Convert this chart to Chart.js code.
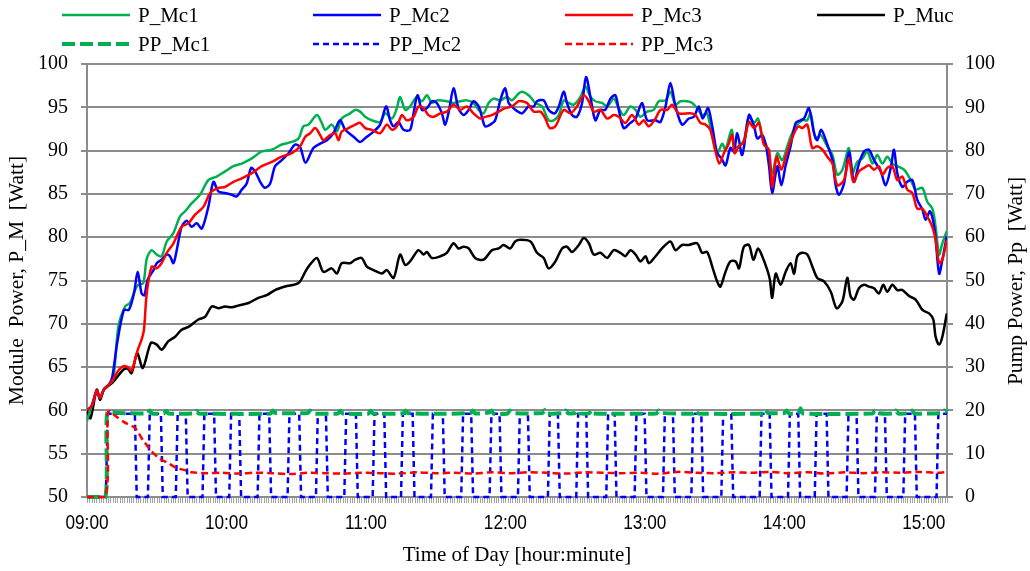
<!DOCTYPE html>
<html>
<head>
<meta charset="utf-8">
<script src="https://cdn.jsdelivr.net/npm/chart.js@4.4.1/dist/chart.umd.min.js"></script>
<style>
  html, body { margin: 0; padding: 0; background: #fff; }
  #wrap { width: 1030px; height: 571px; }
</style>
</head>
<body>
<div id="wrap"><canvas id="pumpChart"></canvas></div>
<script>
// minutes after 09:00 -> values
const hourLabels = ['09:00', '10:00', '11:00', '12:00', '13:00', '14:00', '15:00'];

// module powers, left axis [W]
const pMc1 = [[0,58.8],[2,60.5],[4.2,62.2],[5.6,61.5],[7.3,62.5],[9.5,63.0],[11.3,63.6],[13.5,69.7],[16.4,72.0],[18.5,72.4],[20.5,73.8],[22,74.5],[24.2,74.7],[25.7,77.5],[27.8,78.5],[29.9,78.0],[32.1,77.8],[34.3,79.5],[37.2,80.5],[40,82.4],[42.2,83.0],[45,83.9],[48.6,84.9],[52.2,86.6],[55.8,87.0],[59.4,87.6],[63,88.2],[66.6,88.5],[70.9,89.1],[75.2,89.9],[79.5,90.1],[83.8,90.7],[88.1,91.0],[91,91.4],[93.1,92.8],[95.3,93.0],[98.9,94.1],[101,93.2],[102.5,92.4],[105.3,93.0],[107.5,92.2],[109.6,93.7],[113.2,94.3],[115.4,94.7],[117.5,94.5],[119.7,93.9],[122.5,93.5],[126.1,93.3],[128.3,94.3],[131.2,93.7],[133.3,94.9],[134.7,96.2],[136.9,94.7],[139,95.1],[141.9,96.2],[144.1,95.7],[146.2,96.4],[148.4,95.5],[150.5,95.8],[154.8,95.7],[157.7,95.5],[160.6,95.7],[163.4,95.8],[166.3,95.5],[168.5,94.7],[170.6,94.3],[172.8,95.5],[174.9,96.0],[177.8,95.8],[180.7,96.2],[182.8,95.8],[185.7,96.6],[187.2,96.8],[190,96.4],[192.9,95.5],[195.8,95.1],[198.6,93.5],[200.8,93.5],[203,94.1],[205.1,95.8],[207.3,95.5],[209.4,95.3],[212.3,96.2],[214.4,97.4],[216.6,96.2],[218.7,95.7],[221.6,95.5],[223.8,95.1],[226.6,96.0],[228.8,94.9],[230.9,94.1],[233.8,95.1],[236,94.7],[238.1,93.9],[241,94.5],[243.8,94.7],[246,95.7],[248.9,95.8],[251,96.8],[253.2,95.3],[255.3,95.7],[258.2,95.7],[260.4,95.5],[262.5,94.9],[264.6,94.1],[266.8,94.3],[269,91.6],[271.1,89.7],[273.3,90.8],[274.7,90.1],[277.3,92.4],[278.6,90.5],[280.5,90.5],[282.6,91.2],[284.8,93.9],[287,93.2],[288.7,93.7],[290.5,91.6],[292.7,90.3],[294.8,87.4],[297,89.7],[299.1,88.9],[301.3,90.5],[302.7,91.6],[304.9,92.8],[307.7,93.5],[309.9,93.5],[311.3,94.3],[313.5,91.4],[315.6,91.8],[318.5,90.5],[320.7,89.5],[322.8,87.2],[325,87.8],[327.8,90.3],[329.3,87.4],[331.4,88.7],[333.6,89.1],[335.7,89.9],[337.9,88.5],[340,89.5],[342.2,88.5],[344.3,89.3],[346.5,88.5],[348.6,88.2],[351.5,87.8],[354.4,86.6],[356.5,85.5],[359.4,85.7],[361.5,84.1],[363.7,83.3],[365.1,81.2],[366.6,78.0],[368,79.3],[369.9,80.7]];

const pMc2 = [[0,60.0],[2,60.5],[4.2,62.3],[5.6,61.4],[7.3,62.4],[9.5,63.0],[10.9,63.9],[13,67.8],[15.9,71.6],[18,71.6],[20.2,73.5],[21.8,76.0],[23.5,73.5],[24.7,73.3],[26.1,75.1],[28.6,76.2],[30,77.0],[32.1,77.4],[34.3,78.0],[35.7,77.8],[37.2,77.0],[38.6,78.5],[40.7,81.2],[42.9,81.9],[45,81.2],[47.2,81.6],[49.4,81.0],[52.2,83.5],[54.4,86.4],[56.5,85.3],[59.4,85.1],[62.3,84.9],[64.4,84.7],[66.6,85.5],[68.7,86.2],[70.6,88.0],[72.3,87.6],[74.5,86.4],[76.6,85.7],[78.8,86.2],[80.9,88.2],[83.8,88.9],[86.7,89.7],[89.5,90.7],[91.7,90.4],[94,88.6],[97.4,90.3],[100.3,90.8],[103.2,91.2],[106,92.0],[108.9,93.5],[111.1,92.4],[114.7,91.6],[117.5,91.0],[120.4,91.6],[123.3,92.2],[126.1,93.0],[128.7,95.1],[130.4,93.5],[131.9,92.8],[134,93.3],[136.2,92.4],[139,92.4],[140.5,94.3],[142.2,96.4],[144.1,94.7],[146.2,94.9],[148.4,95.7],[150.5,95.5],[152.7,94.3],[154.1,93.0],[155.8,94.7],[157.7,97.2],[159.8,94.9],[162,94.1],[164.2,94.7],[166.3,95.7],[168.5,95.1],[169.9,93.9],[171.3,92.8],[173.5,93.0],[175.6,93.5],[177.8,95.8],[179.9,97.2],[181.4,95.5],[183.5,94.9],[184.3,94.7],[187.2,94.3],[190,95.1],[192.2,95.1],[193.6,95.7],[196.5,95.8],[198.6,94.7],[201.2,94.3],[203,95.1],[205.1,96.8],[206.5,95.5],[208.7,94.1],[210.8,93.9],[213,95.5],[214.7,98.5],[216.6,96.2],[218.7,93.5],[220.9,94.7],[223,94.7],[225.2,96.0],[227.3,96.4],[228.8,94.7],[230.9,92.6],[233.8,93.2],[236,93.7],[238.8,95.5],[241,93.5],[244.6,93.5],[246.7,93.3],[248.9,95.1],[251,97.8],[253.2,95.1],[256,93.0],[258.9,93.7],[261.1,93.9],[263.2,95.1],[264.9,93.7],[267.2,94.9],[269,92.8],[271.1,89.7],[273,89.1],[274.7,88.3],[276.8,90.3],[278.3,89.9],[279.8,92.0],[281.9,89.5],[284.8,94.1],[287,92.8],[288.4,91.4],[290.5,91.8],[292,90.7],[293.4,88.3],[294.8,85.1],[297,88.2],[298.7,86.0],[300.6,88.3],[302.7,90.5],[304.9,93.2],[307,93.5],[308.5,93.7],[310.6,94.9],[312.8,92.0],[314.2,91.2],[315.9,92.4],[318.5,90.7],[320.7,88.9],[322.1,86.0],[323.5,84.9],[325.7,86.2],[327.8,89.9],[330,86.4],[332.1,88.5],[334.3,89.9],[336.4,90.1],[338.6,88.9],[341.5,87.6],[343.6,86.0],[345.8,88.0],[347.2,90.1],[348.6,87.4],[350.8,85.8],[352.9,86.4],[355.1,86.6],[357.2,84.3],[359.4,83.2],[360.8,82.0],[362.7,83.0],[364.7,80.8],[366.6,75.8],[368,77.4],[369.9,80.1]];

const pMc3 = [[0,60.0],[2,60.5],[4.2,62.3],[5.6,61.4],[7.3,62.4],[9.5,63.0],[11.3,63.6],[13.5,64.6],[15.6,65.1],[17.5,65.0],[19.2,64.6],[21.6,66.8],[23.5,68.2],[24.5,69.3],[25.7,73.5],[27.8,76.6],[29.9,76.4],[32.1,77.0],[34.3,78.2],[37.2,79.3],[40.7,81.2],[43.6,81.6],[46.5,82.6],[50.1,83.5],[53,85.1],[56.5,85.7],[59.4,85.8],[63,86.4],[66.6,86.8],[70.9,87.4],[75.2,88.2],[79.5,88.7],[83.8,89.3],[88.1,89.7],[91.7,90.5],[93.9,91.6],[96,92.0],[98.2,92.6],[100.3,91.8],[101.7,91.2],[104.6,91.8],[106.8,92.0],[108.2,91.2],[109.6,92.2],[112.5,92.6],[115.4,93.0],[117.5,93.2],[119.7,92.6],[122.5,92.4],[126.1,92.0],[129,93.0],[131.2,92.4],[133.3,92.8],[135.5,94.1],[137.6,93.5],[140.5,93.9],[142.6,95.1],[144.8,94.9],[146.9,94.1],[149.1,93.9],[152,94.3],[154.8,94.5],[157.7,95.3],[160.6,94.7],[163.4,95.1],[166.3,94.3],[169.2,93.7],[171.3,93.9],[174.2,94.1],[177.1,94.5],[179.9,94.9],[182.8,95.1],[185.7,95.7],[187.2,95.7],[189.3,95.5],[192.2,94.5],[195.1,94.5],[197.2,93.7],[199.1,92.6],[201.5,92.8],[205.1,94.7],[208,94.3],[210.8,95.1],[213.7,96.4],[215.9,95.7],[218,94.5],[220.9,94.7],[223.8,93.7],[226.6,94.1],[228.8,93.9],[231.6,93.2],[234.5,94.1],[237.4,93.0],[239.5,93.5],[241.7,92.8],[244.6,93.7],[246.7,94.7],[249.6,94.7],[251.7,95.3],[254.6,94.3],[259.6,94.3],[261.8,94.1],[263.9,93.2],[266.1,93.0],[268.2,92.4],[270.4,89.9],[272.1,88.5],[274,89.7],[276.1,90.8],[277.6,91.8],[278.6,89.7],[280.5,90.5],[282.6,91.0],[284.8,93.3],[287,92.6],[289.1,93.2],[291.2,90.7],[293.4,90.1],[294.8,85.8],[296.7,89.3],[298.7,87.8],[300.6,89.3],[302.7,91.0],[304.9,92.4],[306.3,92.8],[307.7,92.6],[309.9,93.0],[312,90.3],[314.2,90.5],[316.4,90.1],[318.5,89.3],[320.7,88.5],[322.8,86.0],[325.7,86.6],[327.8,89.1],[329.7,86.4],[332.1,87.6],[334.3,88.0],[336.4,88.3],[338.6,87.8],[340.7,88.2],[342.2,87.2],[344.3,88.0],[346.5,88.2],[348.6,86.6],[350.8,87.0],[352.9,85.5],[355.1,85.1],[357.2,83.3],[359.4,83.3],[361.5,82.4],[363.7,81.2],[365.1,79.7],[366.6,77.0],[368,77.4],[369.9,79.7]];

const pMuc = [[0,60.0],[1.5,59.1],[4.2,62.4],[5.6,61.2],[7.3,62.4],[11.3,63.3],[15.6,64.7],[17.5,64.8],[19.2,64.3],[21.6,66.6],[24,64.9],[27.5,67.8],[30,67.6],[32.1,67.0],[35,68.0],[37.9,68.5],[40.7,69.3],[44,69.7],[47.9,70.5],[50.8,70.8],[53.7,72.0],[56.5,71.8],[59.4,72.0],[62.3,71.9],[65,72.1],[69.5,72.4],[73.7,73.0],[77.3,73.3],[80.9,73.9],[85.2,74.3],[91,74.7],[93.9,76.0],[95.3,76.6],[98.9,77.6],[101.7,76.0],[105.3,76.4],[107.5,75.8],[109.6,77.0],[113.2,77.0],[115.4,77.4],[118.2,77.6],[120.4,76.6],[123.3,76.2],[126.9,75.8],[129,76.2],[131.9,75.3],[134.7,78.0],[136.9,76.8],[139,77.2],[142.6,78.5],[144.8,78.0],[146.2,78.3],[148.4,77.6],[152,77.8],[154.8,78.2],[157.7,79.3],[159.8,78.7],[162,78.9],[164.2,78.7],[167,77.6],[170.6,77.4],[174.2,78.5],[177.1,78.7],[179.2,79.1],[182.1,78.7],[184.2,79.5],[186.5,79.7],[190.8,79.5],[193.6,78.2],[196.5,77.6],[198.6,76.4],[201.5,77.2],[204.4,78.7],[206.5,78.9],[208.7,78.3],[211.6,79.1],[213.7,79.9],[215.9,79.3],[218,78.0],[220.9,78.2],[223.8,77.6],[226.6,78.5],[229.5,78.2],[231.6,77.8],[233.8,78.5],[236,78.0],[238.1,77.2],[240.3,77.8],[241.7,77.0],[244.6,77.8],[247.4,78.7],[251,79.5],[253.2,78.5],[256,79.1],[258.9,79.1],[262.5,79.3],[264.6,78.2],[266.8,78.3],[269,76.6],[271.1,74.9],[272.5,74.3],[274.7,76.0],[276.8,77.2],[279.1,77.2],[280.5,76.4],[282.6,78.9],[284.8,79.1],[286.7,77.4],[288.7,78.7],[290.5,77.8],[292.7,76.2],[293.8,75.1],[294.8,73.0],[296.3,75.8],[298.4,74.5],[300.6,76.0],[302.7,77.0],[304.2,75.8],[305.6,77.8],[307.7,78.2],[309.9,78.0],[312.1,76.6],[314.2,75.3],[317.1,74.9],[320,73.7],[322.5,71.8],[325,72.6],[327.1,75.3],[328.5,73.2],[330,72.8],[332.1,74.1],[334.3,74.5],[336.4,74.3],[338.6,74.1],[340.7,73.5],[342.6,74.5],[344.3,73.7],[346.5,74.5],[348.6,73.9],[350.8,73.9],[353.7,73.2],[356.5,72.8],[359.4,71.6],[362.3,71.2],[364.1,70.5],[365.1,68.5],[366.6,67.6],[368,68.5],[369.9,71.2]];

// pump powers, right axis [W]
const ppMc1 = [[0,0],[7.9,0],[8.7,19.4],[14,19.4],[26,19.3],[27,20.0],[28,19.3],[33,19.3],[34,19.9],[35,19.3],[46,19.3],[47,19.9],[48,19.3],[64,19.2],[79,19.3],[80,20.0],[81,19.4],[95,19.4],[96,20.0],[97,19.3],[108,19.3],[109,19.9],[110,19.3],[121,19.2],[122,19.9],[123,19.3],[136,19.3],[137,20.0],[138,19.4],[150,19.2],[165,19.4],[166,20.0],[167,19.3],[173,19.5],[174,20.0],[175,19.2],[181,19.3],[182,20.0],[183,19.4],[196,19.4],[197,20.1],[198,19.3],[205,19.4],[206,20.0],[207,19.3],[210,19.4],[211,20.0],[212,19.3],[216,19.3],[217,20.0],[218,19.3],[245,19.3],[246,20.0],[247,19.4],[261,19.3],[262,20.0],[263,19.3],[291,19.3],[292,20.1],[293,19.4],[300,19.4],[301,20.0],[302,19.3],[306,19.4],[307,20.5],[308,19.3],[338,19.3],[339,20.0],[340,19.4],[347,19.3],[348,20.0],[349,19.3],[354,19.4],[355,20.0],[356,19.3],[368,19.4],[369,20.0],[370,19.6]];

const ppMc2High = 19.2;
// on/off switching times of PP_Mc2 (minutes)
const ppMc2Edges = [8.5,21.0,26.6,32.2,38.6,42.9,50.1,55.1,61.6,65.9,73.8,78.8,86.7,91.7,98.9,103.2,111.1,116.1,123.3,128.3,135.5,140.5,148.4,153.5,161.4,165.7,173.6,177.9,185.8,190.1,198.7,203.0,210.9,215.2,223.8,227.4,236.0,240.3,248.2,252.5,260.4,264.7,273.3,277.6,289.8,294.1,302.0,306.4,313.5,318.6,327.2,331.5,339.4,343.7,351.6,356.6,365.9];

const ppMc3 = [[0,0],[7.9,0],[8.9,19.5],[10,19.8],[12,18.8],[16,17.3],[20.7,15.9],[24,13.2],[27.9,10.5],[31,9.0],[35,7.8],[38.6,6.7],[42.2,6.2],[45,5.7],[52,5.5],[58,5.6],[65,5.4],[72,5.6],[80,5.5],[88,5.3],[95,5.6],[103,5.5],[110,5.4],[118,5.6],[126,5.5],[134,5.4],[142,5.7],[150,5.5],[158,5.6],[166,5.4],[174,5.7],[182,5.5],[190,5.7],[198,5.6],[206,5.4],[214,5.7],[222,5.6],[230,5.5],[238,5.6],[246,5.4],[254,5.8],[262,5.6],[270,5.5],[278,5.7],[286,5.6],[294,5.8],[302,5.5],[310,5.7],[318,5.4],[326,5.7],[334,5.5],[342,5.7],[350,5.6],[358,5.8],[366,5.6],[370,5.8]];

const toXY = arr => arr.map(([x, y]) => ({ x, y }));

function stepData(edges, high) {
  const pts = [{ x: 0, y: 0 }];
  let level = 0;
  edges.forEach(e => {
    pts.push({ x: e - 0.4, y: level });
    level = level ? 0 : high;
    pts.push({ x: e + 0.4, y: level });
  });
  pts.push({ x: 370, y: level });
  return pts;
}

const GREEN = '#00B050', BLUE = '#0000FF', RED = '#FF0000', BLACK = '#000000';
const GRID = '#8c8c8c';
const SERIF = "'Liberation Serif', 'Times New Roman', serif";

const datasets = [
  { label: 'P_Mc1', data: toXY(pMc1), borderColor: GREEN, borderWidth: 2.5, yAxisID: 'y', order: 4, tension: 0.3 },
  { label: 'P_Mc2', data: toXY(pMc2), borderColor: BLUE, borderWidth: 2.5, yAxisID: 'y', order: 3, tension: 0.3 },
  { label: 'P_Mc3', data: toXY(pMc3), borderColor: RED, borderWidth: 2.5, yAxisID: 'y', order: 2, tension: 0.3 },
  { label: 'P_Muc', data: toXY(pMuc), borderColor: BLACK, borderWidth: 2.5, yAxisID: 'y', order: 5, tension: 0.3 },
  { label: 'PP_Mc1', data: toXY(ppMc1), borderColor: GREEN, borderWidth: 4, borderDash: [13, 5], yAxisID: 'y1', order: 1, tension: 0.2, clip: 6 },
  { label: 'PP_Mc2', data: stepData(ppMc2Edges, ppMc2High), borderColor: BLUE, borderWidth: 2.5, borderDash: [6, 4], yAxisID: 'y1', order: 6, tension: 0, clip: 6 },
  { label: 'PP_Mc3', data: toXY(ppMc3), borderColor: RED, borderWidth: 2.5, borderDash: [7, 4], yAxisID: 'y1', order: 0, tension: 0.3, clip: 6 }
];

// minute hatch under the x axis, drawn below the lines
const hatchPlugin = {
  id: 'hatch',
  beforeDatasetsDraw(chart) {
    const ctx = chart.ctx;
    const xs = chart.scales.x;
    const bottom = chart.chartArea.bottom;
    ctx.save();
    ctx.strokeStyle = '#a3a3a3';
    ctx.lineWidth = 1;
    ctx.beginPath();
    xs.ticks.forEach(t => {
      const px = Math.round(xs.getPixelForValue(t.value)) + 0.5;
      ctx.moveTo(px, bottom + 1);
      ctx.lineTo(px, bottom + 6);
    });
    ctx.stroke();
    ctx.restore();
  }
};

// legend in 4 columns, narrow hour labels and right title, drawn like the original
const decorPlugin = {
  id: 'decor',
  afterDraw(chart) {
    const ctx = chart.ctx;
    const xs = chart.scales.x;
    ctx.save();

    ctx.fillStyle = '#000';
    ctx.font = "21px 'Liberation Sans', Arial, sans-serif";
    ctx.textAlign = 'center';
    ctx.textBaseline = 'middle';
    hourLabels.forEach((lab, i) => {
      const px = xs.getPixelForValue(i * 60);
      ctx.save();
      ctx.translate(px, 523);
      ctx.scale(0.82, 1);
      ctx.fillText(lab, 0, 0);
      ctx.restore();
    });

    const cols = [62, 313, 565, 817];
    const rows = [15, 44];
    chart.data.datasets.forEach((ds, i) => {
      const x = cols[i % 4];
      const y = rows[Math.floor(i / 4)];
      ctx.beginPath();
      ctx.strokeStyle = ds.borderColor;
      ctx.lineWidth = ds.borderWidth;
      ctx.setLineDash(ds.borderDash || []);
      ctx.moveTo(x, y);
      ctx.lineTo(x + 68, y);
      ctx.stroke();
      ctx.setLineDash([]);
      ctx.fillStyle = '#000';
      ctx.font = '21px ' + SERIF;
      ctx.textAlign = 'left';
      ctx.textBaseline = 'middle';
      ctx.fillText(ds.label, x + 76, y + 1);
    });

    // right axis title reads bottom-to-top
    ctx.font = '21.5px ' + SERIF;
    ctx.translate(1016, 281);
    ctx.rotate(-Math.PI / 2);
    ctx.textAlign = 'center';
    ctx.fillText('Pump Power, Pp  [Watt]', 0, 0);
    ctx.restore();
  }
};

new Chart(document.getElementById('pumpChart'), {
  type: 'line',
  data: { datasets },
  plugins: [hatchPlugin, decorPlugin],
  options: {
    responsive: true,
    maintainAspectRatio: false,
    animation: false,
    layout: { padding: { top: 64, left: 0, right: 0, bottom: 0 } },
    elements: { point: { radius: 0 } },
    plugins: { legend: { display: false }, tooltip: { enabled: false } },
    scales: {
      x: {
        type: 'linear',
        min: 0,
        max: 370,
        afterFit: s => { s.height = 74; },
        border: { color: GRID, width: 2 },
        grid: { display: false, drawOnChartArea: false, drawTicks: false },
        afterBuildTicks: s => {
          s.ticks = [];
          for (let m = 0; m <= 370; m++) s.ticks.push({ value: m });
        },
        ticks: {
          autoSkip: false,
          maxRotation: 0,
          minRotation: 0,
          padding: 6,
          color: 'rgba(0,0,0,0)',
          font: { family: "'Liberation Sans', sans-serif", size: 21 },
          callback: v => (v % 60 === 0 ? hourLabels[v / 60] : '')
        },
        title: {
          display: true,
          text: 'Time of Day [hour:minute]',
          color: '#000',
          padding: { top: 0, bottom: 3 },
          font: { family: SERIF, size: 21 }
        }
      },
      y: {
        position: 'left',
        min: 50,
        max: 100,
        afterFit: s => { s.width = 87; },
        border: { color: GRID, width: 2 },
        grid: { color: GRID, lineWidth: 2, tickLength: 6 },
        ticks: { stepSize: 5, padding: 13, color: '#000', font: { family: SERIF, size: 20 } },
        title: {
          display: true,
          text: 'Module  Power, P_M  [Watt]',
          color: '#000',
          padding: { top: 4, bottom: 0 },
          font: { family: SERIF, size: 21.5 }
        }
      },
      y1: {
        position: 'right',
        min: 0,
        max: 100,
        afterFit: s => { s.width = 83; },
        border: { color: GRID, width: 2 },
        grid: { drawOnChartArea: false, color: GRID, lineWidth: 2, tickLength: 6 },
        ticks: { stepSize: 10, padding: 12, color: '#000', font: { family: SERIF, size: 20 } }
      }
    }
  }
});
</script>
</body>
</html>
